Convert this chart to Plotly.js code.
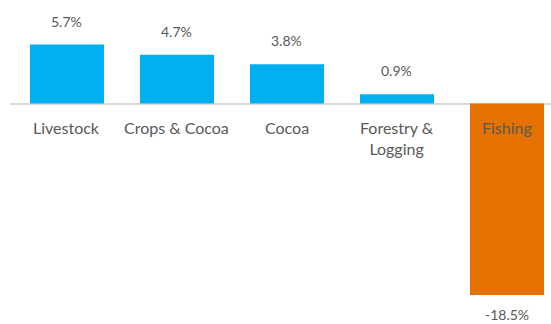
<!DOCTYPE html>
<html><head><meta charset="utf-8">
<script src="https://cdn.plot.ly/plotly-3.0.1.min.js"></script>
<style>html,body{margin:0;padding:0;background:#fff}#c{width:551px;height:324px}</style>
</head><body><div id="c"></div>
<script>
var categories = ["Livestock", "Crops & Cocoa", "Cocoa", "Forestry &<br>Logging", "Fishing"];
var values = [5.7, 4.7, 3.8, 0.9, -18.5];
var valueLabels = ["5.7%", "4.7%", "3.8%", "0.9%", "-18.5%"];
var barColors = values.map(function(v){ return v < 0 ? "#E57200" : "#00B0F0"; });
var xs = categories.map(function(_, i){ return i; });

var annotations = [];
xs.forEach(function(x, i){
  annotations.push({x: x, y: 0, xref: "x", yref: "y", text: categories[i], showarrow: false,
    yanchor: "top", yshift: -12, font: {family: "Lato, sans-serif", size: 16, color: "#595959"}});
  var pos = values[i] >= 0;
  annotations.push({x: x, y: values[i], xref: "x", yref: "y", text: valueLabels[i], showarrow: false,
    yanchor: pos ? "bottom" : "top", yshift: pos ? 13 : -9,
    font: {family: "Lato, sans-serif", size: 14, color: "#595959"}});
});

Plotly.newPlot("c", [{
  type: "bar", x: xs, y: values, marker: {color: barColors}, hoverinfo: "none"
}], {
  width: 551, height: 324,
  margin: {l: 10, r: 0, t: 0, b: 0},
  paper_bgcolor: "#fff", plot_bgcolor: "#fff",
  bargap: 0.327,
  showlegend: false,
  xaxis: {range: [-0.518, 4.4], showticklabels: false, showgrid: false, zeroline: false, ticks: ""},
  yaxis: {range: [-21.3, 10], showticklabels: false, showgrid: false,
    zeroline: true, zerolinecolor: "#D9D9D9", zerolinewidth: 2, ticks: ""},
  annotations: annotations
}, {staticPlot: true});
</script></body></html>
